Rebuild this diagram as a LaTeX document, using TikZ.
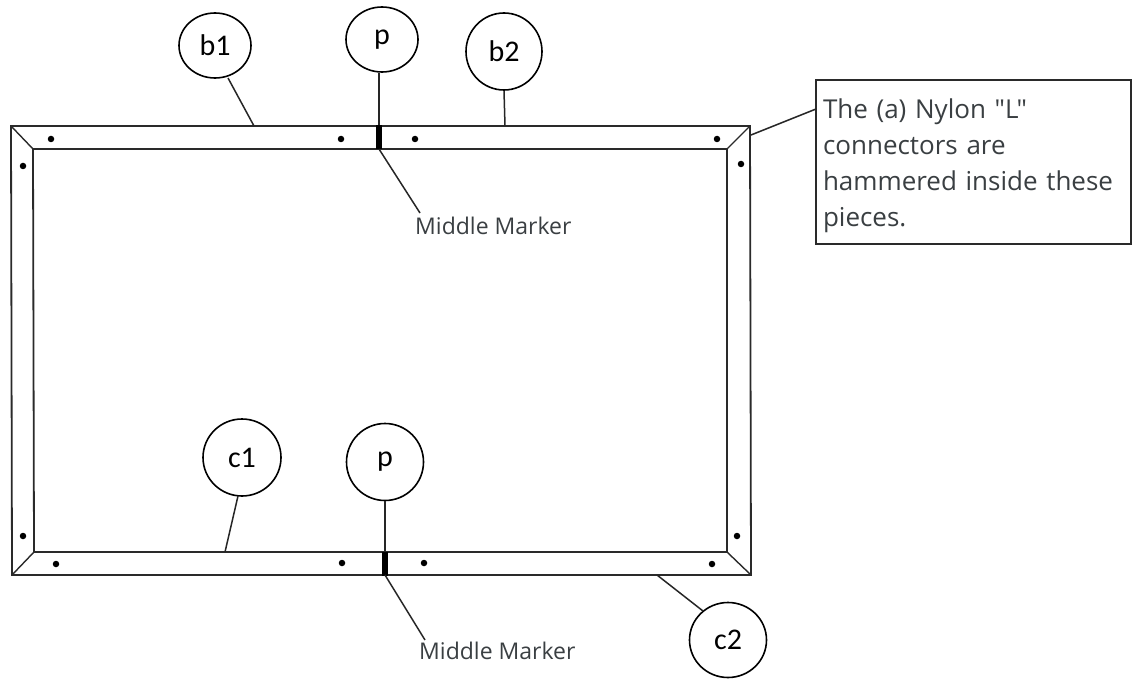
\documentclass[tikz,border=0pt]{standalone}
\usepackage{fontspec}
\setmainfont{Carlito}
\newfontfamily\notefont{Open Sans}
\usetikzlibrary{shapes.geometric}
\definecolor{frameink}{HTML}{2A2A2A}
\definecolor{noteink}{HTML}{3A3F42}
\tikzset{
  x=1pt,y=-1pt,
  frameline/.style={draw=frameink,line width=1.8pt,line join=miter},
  leader/.style={draw=black!85,line width=1.5pt},
  bubble/.style={ellipse,draw=black,line width=1.6pt,fill=white,inner sep=0pt,font=\fontsize{30}{34}\selectfont},
  pin/.style={circle,fill=black,inner sep=0pt,minimum size=6.5pt},
  midmark/.style={fill=black,inner sep=0pt,minimum width=5.5pt,minimum height=24pt},
  marklabel/.style={font=\notefont\fontsize{23}{26}\selectfont,text=noteink,inner sep=0pt,anchor=west},
  notebox/.style={draw=frameink,line width=1.7pt,fill=white,inner sep=0pt,minimum width=315pt,minimum height=164pt},
  notetext/.style={inner sep=0pt,font=\notefont\fontsize{26}{36}\selectfont,text=noteink,text width=301pt,align=left},
}
\begin{document}
\begin{tikzpicture}
\useasboundingbox (0,0) rectangle (1132,679);
% frame corners
\coordinate (ot1) at (11,126); \coordinate (ot2) at (750,126);
\coordinate (ob1) at (12,575); \coordinate (ob2) at (751,575);
\coordinate (it1) at (33,149); \coordinate (it2) at (727,149);
\coordinate (ib1) at (34,552); \coordinate (ib2) at (727,552);
\draw[frameline] (ot1) -- (ot2) -- (ob2) -- (ob1) -- cycle;
\draw[frameline] (it1) -- (it2) -- (ib2) -- (ib1) -- cycle;
\draw[frameline,line width=1.4pt] (ot1) -- (it1) (ot2) -- (it2) (ob1) -- (ib1) (ob2) -- (ib2);
% middle markers
\node[midmark] (mt) at (379,137.5) {};
\node[midmark] (mb) at (385,563.5) {};
% pins
\foreach \px/\py in {51/139,341/139,415/139,717/139,23/166,741/164,23/536,737/536,56/564,342/563,424/563,712/564}
  \node[pin] at (\px,\py) {};
% bubbles
\node[bubble,minimum width=72pt,minimum height=65pt] (b1) at (215,45.5) {b1};
\node[bubble,minimum width=72pt,minimum height=65pt] (p1) at (382,39.5) {\raisebox{-2pt}{p}};
\node[bubble,minimum width=76pt,minimum height=77pt] (b2) at (504,51.5) {b2};
\node[bubble,minimum width=78pt,minimum height=77pt] (c1) at (242,457.5) {c1};
\node[bubble,minimum width=77pt,minimum height=77pt] (p2) at (385,462) {\raisebox{-2pt}{p}};
\node[bubble,minimum width=77pt,minimum height=75pt] (c2) at (728,640) {c2};
% labels
\node[marklabel] (m1) at (415,226) {Middle Marker};
\node[marklabel] (m2) at (419,651) {Middle Marker};
\node[notebox] (note) at (973.5,162) {};
\node[notetext] (notebody) at (973.5,166) {The (a) Nylon "L"\\connectors are\\hammered inside these\\pieces.};
% connector ends
\coordinate (sb1) at (228,78);
\coordinate (eb1) at (254,126);
\coordinate (eb2) at (505,126);
\coordinate (sc1) at (238,496);
\coordinate (ec1) at (225,552);
\coordinate (ec2) at (657,575);
\coordinate (sc2) at (703,611);
\coordinate (sm1) at (379,149);
\coordinate (tm1) at (420,213);
\coordinate (sm2) at (385,575);
\coordinate (tm2) at (425,640);
\coordinate (ecorner) at (751,135);
\coordinate (enote) at (816,109);
% connectors
\draw[leader] (sb1) -- (eb1);
\draw[leader] (mt.north |- p1.south) -- (mt.north);
\draw[leader] (b2.south) -- (eb2);
\draw[leader] (sc1) -- (ec1);
\draw[leader] (p2.south) -- (mb.north);
\draw[leader] (sc2) -- (ec2);
\draw[leader] (sm1) -- (tm1);
\draw[leader] (sm2) -- (tm2);
\draw[leader] (ecorner) -- (enote);
\end{tikzpicture}
\end{document}
